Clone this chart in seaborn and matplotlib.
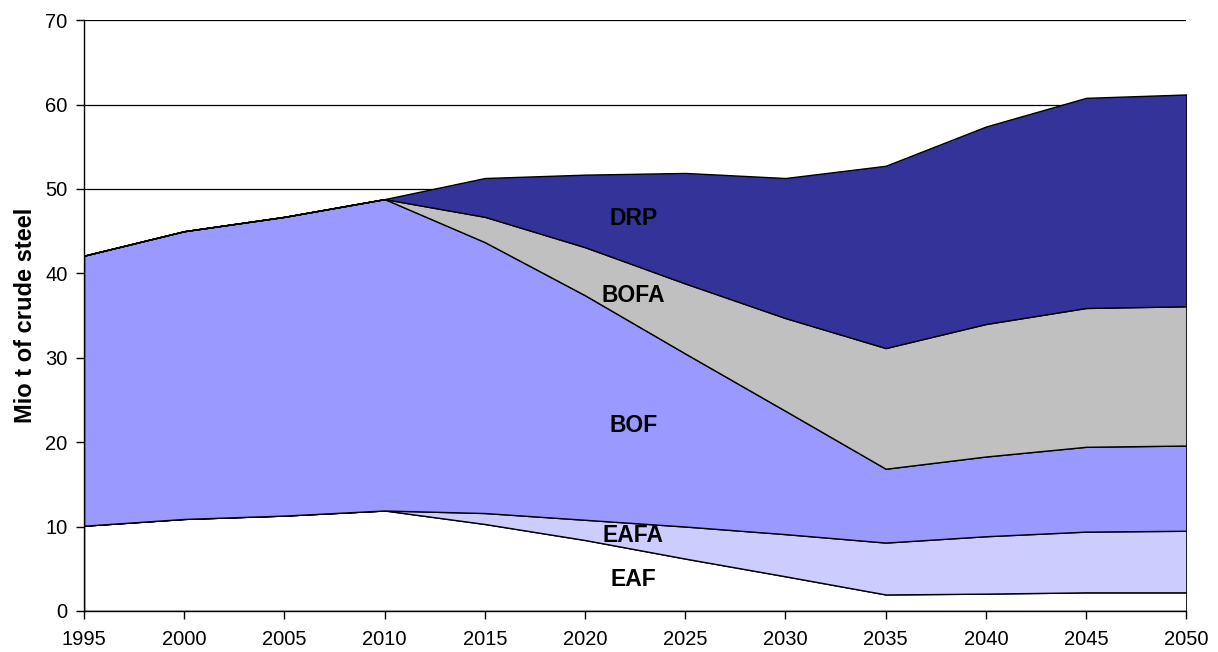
import numpy as np
import pandas as pd
import matplotlib
matplotlib.use("Agg")
import matplotlib.pyplot as plt
import seaborn as sns

# data (Mio t per route)
years = [1995, 2000, 2005, 2010, 2015, 2020, 2025, 2030, 2035, 2040, 2045, 2050]
eaf = [10.1, 10.9, 11.3, 11.9, 10.3, 8.4, 6.2, 4.1, 1.95, 2.05, 2.2, 2.2]
eafa = [0.0, 0.0, 0.0, 0.0, 1.3, 2.4, 3.8, 5.0, 6.15, 6.8, 7.2, 7.3]
bof = [32.0, 34.1, 35.4, 36.9, 32.1, 26.6, 20.5, 14.6, 8.75, 9.45, 10.05, 10.1]
bofa = [0.0, 0.0, 0.0, 0.0, 3.0, 5.7, 8.3, 11.0, 14.3, 15.7, 16.45, 16.5]
drp = [0.0, 0.0, 0.0, 0.0, 4.6, 8.6, 13.1, 16.6, 21.6, 23.4, 24.9, 25.1]

routes = ["EAF", "EAFA", "BOF", "BOFA", "DRP"]
colors = ["#FFFFFF", "#CCCCFF", "#9999FF", "#C0C0C0", "#333399"]

df = pd.DataFrame({"year": years, "EAF": eaf, "EAFA": eafa, "BOF": bof,
                   "BOFA": bofa, "DRP": drp})

sns.set_style("white")
plt.rcParams["font.family"] = ["Liberation Sans", "DejaVu Sans"]
plt.rcParams["text.color"] = "black"
plt.rcParams["axes.labelcolor"] = "black"

fig = plt.figure(figsize=(12.18, 6.52), dpi=100)
ax = fig.add_axes([0.069, 0.063, 0.905, 0.906])

ax.stackplot(df["year"], [df[r] for r in routes], colors=colors,
             edgecolor="black", linewidth=1.0, zorder=2)

ax.set_xlim(1995, 2050)
ax.set_ylim(0, 70)
ax.set_xticks(range(1995, 2051, 5))
ax.set_yticks(range(0, 71, 10))
ax.yaxis.grid(True, color="black", linewidth=0.9, zorder=0)
ax.set_axisbelow(True)

sns.despine(ax=ax, top=True, right=True)
for s in ["left", "bottom"]:
    ax.spines[s].set_color("black")
    ax.spines[s].set_linewidth(1.0)
    ax.spines[s].set_zorder(5)

ax.tick_params(axis="both", direction="out", length=6, width=1.0,
               color="black", labelcolor="black", labelsize=14.5,
               left=True, bottom=True)
ax.tick_params(axis="x", pad=8)
ax.tick_params(axis="y", pad=6)
ax.set_ylabel("Mio t of crude steel", fontsize=17, fontweight="bold",
              labelpad=6, color="black")

label_pos = {"DRP": 46.5, "BOFA": 37.4, "BOF": 22.0, "EAFA": 8.9, "EAF": 3.7}
for name, yv in label_pos.items():
    ax.text(2022.4, yv, name, ha="center", va="center", fontsize=16.5,
            fontweight="bold", color="black", zorder=6)

fig.savefig("out.png", dpi=100)
